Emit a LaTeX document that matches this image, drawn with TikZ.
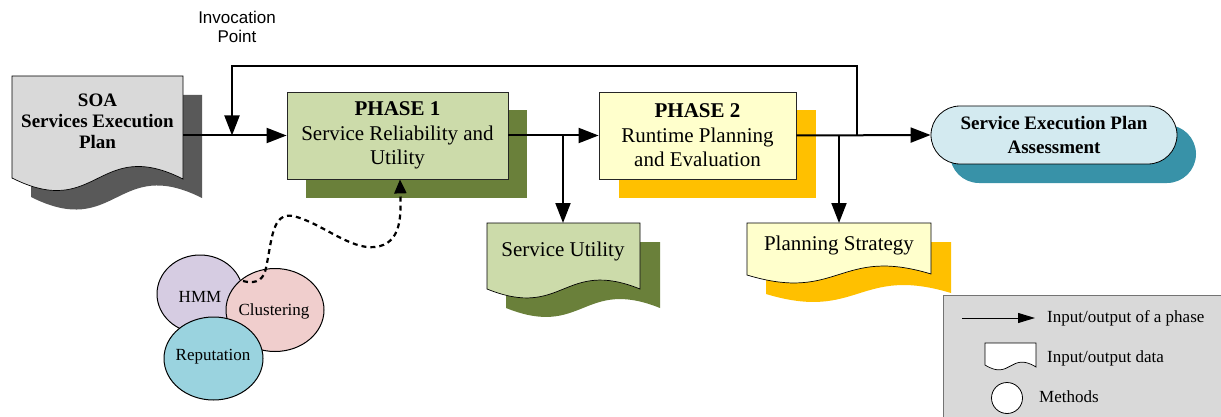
\documentclass[tikz,border=0pt]{standalone}
\usepackage{fontspec}
\setmainfont{Liberation Serif}
\newfontfamily\arialfont{Liberation Sans}
\usetikzlibrary{arrows.meta,shapes.geometric,shadows}

\definecolor{docgray}{RGB}{217,217,217}
\definecolor{docshade}{RGB}{89,89,89}
\definecolor{phonefill}{RGB}{204,219,170}
\definecolor{phoneshade}{RGB}{106,128,58}
\definecolor{ptwofill}{RGB}{255,255,204}
\definecolor{ptwoshade}{RGB}{255,192,0}
\definecolor{pillfill}{RGB}{211,234,240}
\definecolor{pillshade}{RGB}{56,146,168}
\definecolor{hmmfill}{RGB}{214,204,226}
\definecolor{clufill}{RGB}{240,206,205}
\definecolor{repfill}{RGB}{154,211,223}
\definecolor{legfill}{RGB}{217,217,217}

% document shape: style, top-left x, top-left y, width,
% left edge height, right edge height, wave pull
\newcommand\docshape[7]{%
  \path[#1] (#2,#3) -- ({#2+#4},#3) -- ({#2+#4},{#3+#6})
    .. controls ({#2+#4/2},{#3+#6-#7}) and ({#2+#4/2},{#3+#5+#7}) .. (#2,{#3+#5}) -- cycle;}

\begin{document}
\begin{tikzpicture}[x=1pt,y=-1pt,
  conn/.style={line width=2pt,-{Triangle[length=20pt,width=15pt]}},
  dotconn/.style={line width=2.2pt,dash pattern=on 5pt off 4pt,
    -{Triangle[length=14pt,width=12pt]}},
  phase/.style={draw=black!85,line width=0.8pt,inner sep=0pt,align=center,
    minimum height=87pt,font=\fontsize{21}{24.5}\selectfont},
  doctext/.style={align=center,inner sep=0pt,font=\fontsize{21}{24.5}\selectfont},
  method/.style={ellipse,draw=black,line width=1pt,inner sep=0pt,
    font=\fontsize{17}{20}\selectfont},
  legtext/.style={anchor=west,inner sep=0pt,font=\fontsize{17}{20}\selectfont},
  docline/.style={draw=black,line width=0.7pt}]
\useasboundingbox (0,0) rectangle (1221,417);

% invocation point label
\node[align=center,inner sep=0pt,font=\arialfont\fontsize{17}{19.5}\selectfont]
  (invoc) at (237,27) {Invocation\\Point};

% input plan document
\docshape{fill=docshade}{31}{95}{171}{102}{103}{43}
\docshape{fill=docgray,docline}{12}{76}{171}{102}{103}{43}
\node[align=center,inner sep=0pt,font=\bfseries\fontsize{19}{21}\selectfont]
  (soa) at (97.5,121) {SOA\\Services Execution\\Plan};

% phases
\node[phase,fill=phonefill,minimum width=221pt,
  drop shadow={shadow xshift=19pt,shadow yshift=-18.5pt,fill=phoneshade,opacity=1}]
  (p1) at (397.5,135.5) {\textbf{PHASE 1}\\Service Reliability and\\Utility};
\node[phase,fill=ptwofill,minimum width=197pt,
  drop shadow={shadow xshift=20pt,shadow yshift=-18.5pt,fill=ptwoshade,opacity=1}]
  (p2) at (697.5,135.5) {\textbf{PHASE 2}\\Runtime Planning\\and Evaluation};

% assessment
\node[draw=black,line width=0.8pt,fill=pillfill,rounded corners=29pt,
  minimum width=246pt,minimum height=58pt,inner sep=0pt,align=center,
  font=\bfseries\fontsize{19}{24}\selectfont,
  drop shadow={shadow xshift=19pt,shadow yshift=-19pt,fill=pillshade,opacity=1}]
  (sepa) at (1054,135) {Service Execution Plan\\Assessment};

% output documents
\docshape{fill=phoneshade}{506}{242}{154}{66}{66}{31}
\docshape{fill=phonefill,docline}{487}{223}{153}{66}{66}{31}
\node[doctext] (su) at (563,251) {Service Utility};
\coordinate (sutop) at (563,223);

\docshape{fill=ptwoshade}{766}{242}{185}{52}{51}{28}
\docshape{fill=ptwofill,docline}{747}{223}{184}{52}{51}{28}
\node[doctext] (ps) at (839,245) {Planning Strategy};
\coordinate (pstop) at (839,223);

% methods
\node[method,fill=hmmfill,minimum width=86pt,minimum height=78pt] (hmm) at (200,294) {};
\node[method,fill=clufill,minimum width=98pt,minimum height=83pt] (clu) at (275,310) {};
\node[method,fill=repfill,minimum width=99pt,minimum height=83pt] (rep) at (213.5,358.5) {};
\node[font=\fontsize{17}{20}\selectfont,inner sep=0pt] (hmmt) at (200,297) {HMM};
\node[font=\fontsize{17}{20}\selectfont,inner sep=0pt] (clut) at (274,311) {Clustering};
\node[font=\fontsize{17}{20}\selectfont,inner sep=0pt] (rept) at (213,357) {Reputation};

% connectors
\coordinate (soaR) at (183,135.5);
\coordinate (ip) at (232,135.5);
\coordinate (j1) at (563,135.5);
\coordinate (j2) at (857,135.5);
\coordinate (j3) at (839,135.5);
\coordinate (loopR) at (857,66);
\coordinate (dstart) at (243,281);

\draw[conn] (soaR) -- (p1.west);
\draw[conn] (j2) -- (loopR) -| (ip);
\draw[conn] (p1.east) -- (p2.west);
\draw[conn] (j1) -- (sutop);
\draw[conn] (p2.east) -- (sepa.west);
\draw[conn] (j3) -- (pstop);
\draw[dotconn] (dstart) .. controls (258,285) and (264,278) .. (266,268)
  .. controls (272,240) and (272,212) .. (293,216)
  .. controls (320,222) and (350,250) .. (375,247)
  .. controls (402,244) and (401,215) .. ([xshift=2.5pt]p1.south);

% legend
\node[draw=black!55,line width=0.8pt,fill=legfill,anchor=north west,
  minimum width=282pt,minimum height=130pt,inner sep=0pt] (legend) at (943,295) {};
\coordinate (la1) at (962,318);
\coordinate (la2) at (1035,318);
\draw[line width=1pt,-{Triangle[length=17pt,width=10pt]}] (la1) -- (la2);
\docshape{fill=white,draw=black,line width=0.7pt}{985}{343}{51}{22}{24}{16}
\node[circle,draw=black,line width=0.8pt,fill=white,minimum size=31pt,inner sep=0pt]
  (lc) at (1007,398) {};
\node[legtext] (lt1) at (1047,318) {Input/output of a phase};
\node[legtext] (lt2) at (1047,358) {Input/output data};
\node[legtext] (lt3) at (1039,397) {Methods};
\end{tikzpicture}
\end{document}
